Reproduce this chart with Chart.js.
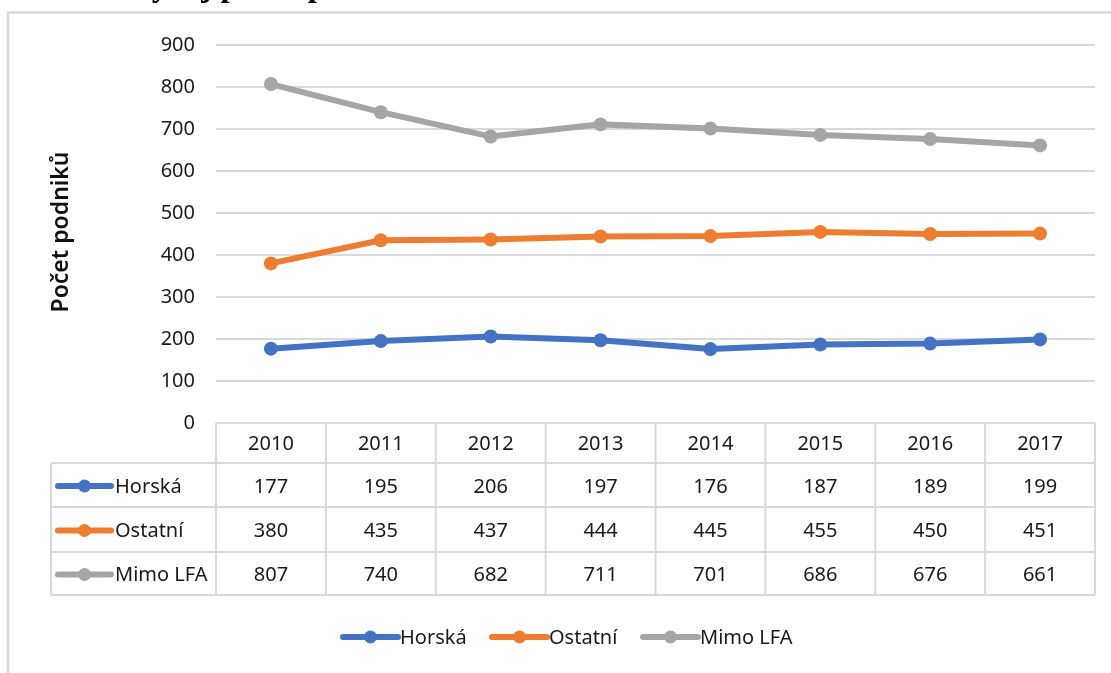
<!DOCTYPE html>
<html>
<head>
<meta charset="utf-8">
<script src="https://cdn.jsdelivr.net/npm/chart.js@4"></script>
<style>
body{margin:0;background:#fff;}
canvas{display:block;}
</style>
</head>
<body>
<canvas id="graf" width="1111" height="673"></canvas>
<script>
// DATA
var roky = ["2010","2011","2012","2013","2014","2015","2016","2017"];
var horska = [177,195,206,197,176,187,189,199];
var ostatni = [380,435,437,444,445,455,450,451];
var mimoLFA = [807,740,682,711,701,686,676,661];
var yTicks = [0,100,200,300,400,500,600,700,800,900];

var nazvy = ["Horská","Ostatní","Mimo LFA"];
var barvy = ["#4472c4","#ed7d31","#a5a5a5"];
var rady = [horska, ostatni, mimoLFA];

var FONT = "'Noto Sans', sans-serif";
var GRID = "#d9d9d9";
var TXT = "#1a1a1a";

/* =======================
   TABULKA + LEGENDA
======================= */
var tabulka = {
id:"tabulka",
afterDraw:function(chart){
var c = chart.ctx, a = chart.chartArea, x = chart.scales.x;
var colW = (a.right - a.left) / roky.length;
var rows = [a.bottom, 463, 507, 552, 595];
var leftT = 51;
c.save();
c.strokeStyle = GRID; c.lineWidth = 2;
c.beginPath();
// horizontal
c.moveTo(a.left, rows[0]); c.lineTo(a.right, rows[0]);
for (var r = 1; r < rows.length; r++){ c.moveTo(leftT, rows[r]); c.lineTo(a.right, rows[r]); }
// vertical
for (var k = 0; k <= roky.length; k++){
var vx = a.left + k * colW;
c.moveTo(vx, rows[0]); c.lineTo(vx, rows[4]);
}
c.moveTo(leftT, rows[1]); c.lineTo(leftT, rows[4]);
c.stroke();

c.font = "20px " + FONT; c.fillStyle = TXT;
c.textAlign = "center"; c.textBaseline = "middle";
roky.forEach(function(rok, i){
var cx = x.getPixelForValue(i);
c.fillText(rok, cx, (rows[0] + rows[1]) / 2 + 1);
rady.forEach(function(s, j){
c.fillText(String(s[i]), cx, (rows[j+1] + rows[j+2]) / 2 + 2);
});
});
// row keys
rady.forEach(function(s, j){
var cy = (rows[j+1] + rows[j+2]) / 2 + 1;
klic(c, 58, 111, cy, barvy[j]);
c.textAlign = "left"; c.fillStyle = TXT;
c.fillText(nazvy[j], 115, cy + 1);
});
// bottom legend
var lx = [343, 492, 643];
nazvy.forEach(function(n, j){
klic(c, lx[j], lx[j] + 55, 637, barvy[j]);
c.textAlign = "left"; c.fillStyle = TXT;
c.fillText(n, lx[j] + 57, 638);
});
// y title
c.save();
c.translate(61, 232); c.rotate(-Math.PI/2);
c.font = "600 23px " + FONT; c.textAlign = "center"; c.fillStyle = "#111";
c.fillText("Počet podniků", 0, 0);
c.restore();
// frame
c.strokeStyle = GRID; c.lineWidth = 2.5;
c.beginPath(); c.moveTo(8, 673); c.lineTo(8, 12.5); c.lineTo(1111, 12.5); c.stroke();
// cut-off title
c.font = "bold 33px 'Liberation Serif', serif"; c.fillStyle = "#000";
c.textAlign = "left"; c.textBaseline = "alphabetic";
c.fillText("Vývoj počtu podniků", 128, -4);
c.restore();
}
};

function klic(c, x1, x2, y, col){
c.strokeStyle = col; c.lineWidth = 6; c.lineCap = "round";
c.beginPath(); c.moveTo(x1, y); c.lineTo(x2, y); c.stroke();
c.fillStyle = col;
c.beginPath(); c.arc((x1 + x2) / 2, y, 6.5, 0, Math.PI * 2); c.fill();
c.lineCap = "butt";
}

new Chart(document.getElementById("graf"),{
type:"line",
data:{
labels:roky,
datasets:rady.map(function(s, j){
return {
label:nazvy[j],
data:s,
borderColor:barvy[j],
backgroundColor:barvy[j],
borderWidth:6,
pointRadius:7,
pointBorderWidth:0,
pointHoverRadius:7,
tension:0
};
})
},
options:{
responsive:false,
animation:false,
events:[],
layout:{padding:{left:40, top:45, right:16, bottom:250}},
plugins:{legend:{display:false}, tooltip:{enabled:false}},
scales:{
x:{display:false, offset:true},
y:{
min:0, max:900,
afterBuildTicks:function(s){ s.ticks = yTicks.map(function(v){ return {value:v}; }); },
afterFit:function(s){ s.width = 176; },
grid:{color:GRID, lineWidth:2, drawTicks:false},
border:{display:false},
ticks:{padding:21, color:TXT, font:{family:FONT, size:20}}
}
}
},
plugins:[tabulka]
});
</script>
</body>
</html>
